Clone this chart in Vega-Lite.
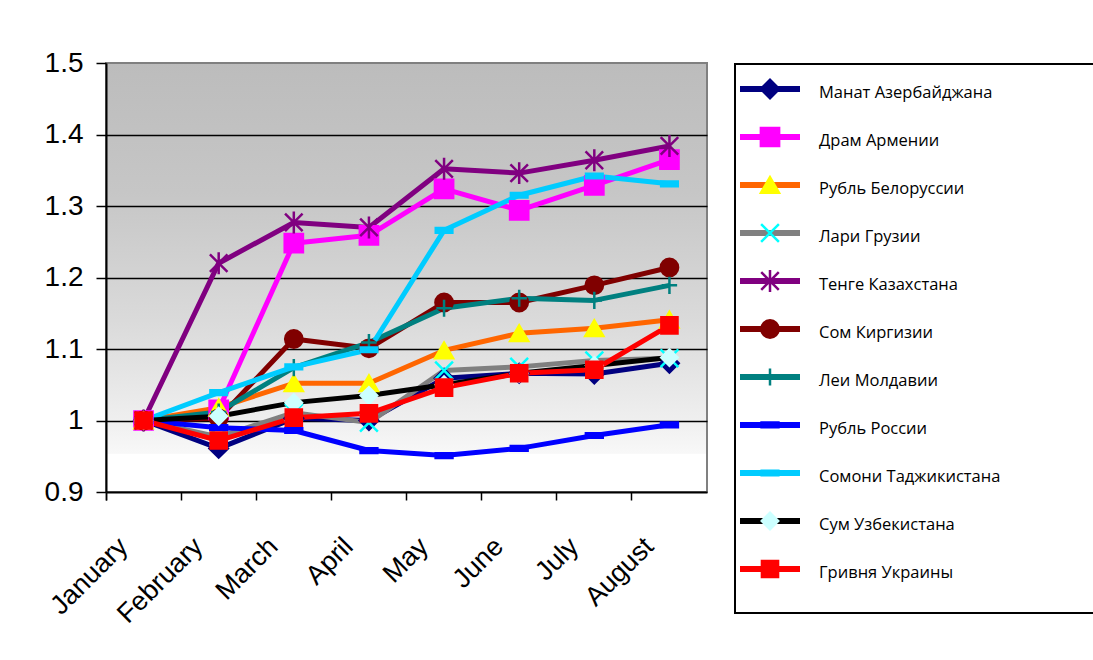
{
  "$schema": "https://vega.github.io/schema/vega-lite/v6.json",
  "padding": {"left": 43, "top": 48, "right": 0, "bottom": 0},
  "background": "white",
  "spacing": 26,
  "config": {"font": "Liberation Sans", "view": {"stroke": null}},
  "datasets": {
    "values": [
      {"series": "Манат Азербайджана", "month": "January", "value": 1.0},
      {"series": "Манат Азербайджана", "month": "February", "value": 0.961},
      {"series": "Манат Азербайджана", "month": "March", "value": 1.003},
      {"series": "Манат Азербайджана", "month": "April", "value": 1.0},
      {"series": "Манат Азербайджана", "month": "May", "value": 1.059},
      {"series": "Манат Азербайджана", "month": "June", "value": 1.066},
      {"series": "Манат Азербайджана", "month": "July", "value": 1.065},
      {"series": "Манат Азербайджана", "month": "August", "value": 1.08},
      {"series": "Драм Армении", "month": "January", "value": 1.0},
      {"series": "Драм Армении", "month": "February", "value": 1.015},
      {"series": "Драм Армении", "month": "March", "value": 1.248},
      {"series": "Драм Армении", "month": "April", "value": 1.259},
      {"series": "Драм Армении", "month": "May", "value": 1.324},
      {"series": "Драм Армении", "month": "June", "value": 1.294},
      {"series": "Драм Армении", "month": "July", "value": 1.329},
      {"series": "Драм Армении", "month": "August", "value": 1.365},
      {"series": "Рубль Белоруссии", "month": "January", "value": 1.0},
      {"series": "Рубль Белоруссии", "month": "February", "value": 1.018},
      {"series": "Рубль Белоруссии", "month": "March", "value": 1.052},
      {"series": "Рубль Белоруссии", "month": "April", "value": 1.052},
      {"series": "Рубль Белоруссии", "month": "May", "value": 1.098},
      {"series": "Рубль Белоруссии", "month": "June", "value": 1.122},
      {"series": "Рубль Белоруссии", "month": "July", "value": 1.129},
      {"series": "Рубль Белоруссии", "month": "August", "value": 1.141},
      {"series": "Лари Грузии", "month": "January", "value": 1.0},
      {"series": "Лари Грузии", "month": "February", "value": 0.977},
      {"series": "Лари Грузии", "month": "March", "value": 1.011},
      {"series": "Лари Грузии", "month": "April", "value": 0.997},
      {"series": "Лари Грузии", "month": "May", "value": 1.07},
      {"series": "Лари Грузии", "month": "June", "value": 1.075},
      {"series": "Лари Грузии", "month": "July", "value": 1.084},
      {"series": "Лари Грузии", "month": "August", "value": 1.087},
      {"series": "Тенге Казахстана", "month": "January", "value": 1.0},
      {"series": "Тенге Казахстана", "month": "February", "value": 1.22},
      {"series": "Тенге Казахстана", "month": "March", "value": 1.277},
      {"series": "Тенге Казахстана", "month": "April", "value": 1.27},
      {"series": "Тенге Казахстана", "month": "May", "value": 1.352},
      {"series": "Тенге Казахстана", "month": "June", "value": 1.346},
      {"series": "Тенге Казахстана", "month": "July", "value": 1.364},
      {"series": "Тенге Казахстана", "month": "August", "value": 1.384},
      {"series": "Сом Киргизии", "month": "January", "value": 1.0},
      {"series": "Сом Киргизии", "month": "February", "value": 1.003},
      {"series": "Сом Киргизии", "month": "March", "value": 1.114},
      {"series": "Сом Киргизии", "month": "April", "value": 1.101},
      {"series": "Сом Киргизии", "month": "May", "value": 1.165},
      {"series": "Сом Киргизии", "month": "June", "value": 1.165},
      {"series": "Сом Киргизии", "month": "July", "value": 1.189},
      {"series": "Сом Киргизии", "month": "August", "value": 1.214},
      {"series": "Леи Молдавии", "month": "January", "value": 1.0},
      {"series": "Леи Молдавии", "month": "February", "value": 1.012},
      {"series": "Леи Молдавии", "month": "March", "value": 1.074},
      {"series": "Леи Молдавии", "month": "April", "value": 1.109},
      {"series": "Леи Молдавии", "month": "May", "value": 1.157},
      {"series": "Леи Молдавии", "month": "June", "value": 1.171},
      {"series": "Леи Молдавии", "month": "July", "value": 1.168},
      {"series": "Леи Молдавии", "month": "August", "value": 1.189},
      {"series": "Рубль России", "month": "January", "value": 1.0},
      {"series": "Рубль России", "month": "February", "value": 0.99},
      {"series": "Рубль России", "month": "March", "value": 0.986},
      {"series": "Рубль России", "month": "April", "value": 0.958},
      {"series": "Рубль России", "month": "May", "value": 0.951},
      {"series": "Рубль России", "month": "June", "value": 0.961},
      {"series": "Рубль России", "month": "July", "value": 0.979},
      {"series": "Рубль России", "month": "August", "value": 0.994},
      {"series": "Сомони Таджикистана", "month": "January", "value": 1.0},
      {"series": "Сомони Таджикистана", "month": "February", "value": 1.039},
      {"series": "Сомони Таджикистана", "month": "March", "value": 1.075},
      {"series": "Сомони Таджикистана", "month": "April", "value": 1.099},
      {"series": "Сомони Таджикистана", "month": "May", "value": 1.266},
      {"series": "Сомони Таджикистана", "month": "June", "value": 1.315},
      {"series": "Сомони Таджикистана", "month": "July", "value": 1.342},
      {"series": "Сомони Таджикистана", "month": "August", "value": 1.331},
      {"series": "Сум Узбекистана", "month": "January", "value": 1.0},
      {"series": "Сум Узбекистана", "month": "February", "value": 1.006},
      {"series": "Сум Узбекистана", "month": "March", "value": 1.025},
      {"series": "Сум Узбекистана", "month": "April", "value": 1.035},
      {"series": "Сум Узбекистана", "month": "May", "value": 1.05},
      {"series": "Сум Узбекистана", "month": "June", "value": 1.066},
      {"series": "Сум Узбекистана", "month": "July", "value": 1.077},
      {"series": "Сум Узбекистана", "month": "August", "value": 1.088},
      {"series": "Гривня Украины", "month": "January", "value": 1.0},
      {"series": "Гривня Украины", "month": "February", "value": 0.972},
      {"series": "Гривня Украины", "month": "March", "value": 1.004},
      {"series": "Гривня Украины", "month": "April", "value": 1.01},
      {"series": "Гривня Украины", "month": "May", "value": 1.046},
      {"series": "Гривня Украины", "month": "June", "value": 1.066},
      {"series": "Гривня Украины", "month": "July", "value": 1.071},
      {"series": "Гривня Украины", "month": "August", "value": 1.133}
    ],
    "legend": [
      {"series": "Манат Азербайджана"},
      {"series": "Драм Армении"},
      {"series": "Рубль Белоруссии"},
      {"series": "Лари Грузии"},
      {"series": "Тенге Казахстана"},
      {"series": "Сом Киргизии"},
      {"series": "Леи Молдавии"},
      {"series": "Рубль России"},
      {"series": "Сомони Таджикистана"},
      {"series": "Сум Узбекистана"},
      {"series": "Гривня Украины"}
    ]
  },
  "hconcat": [
    {
      "width": 601,
      "height": 429,
      "view": {
        "stroke": "#808080",
        "strokeWidth": 2,
        "fill": {
          "gradient": "linear",
          "x1": 0, "y1": 0, "x2": 0, "y2": 1,
          "stops": [
            {"offset": 0, "color": "#bcbcbc"},
            {"offset": 0.3, "color": "#c6c6c6"},
            {"offset": 0.6, "color": "#dadada"},
            {"offset": 0.834, "color": "#efefef"},
            {"offset": 0.91, "color": "#f8f8f8"},
            {"offset": 0.912, "color": "#ffffff"},
            {"offset": 1, "color": "#ffffff"}
          ]
        }
      },
      "data": {"name": "values"},
      "encoding": {
        "x": {
          "field": "month",
          "type": "ordinal",
          "sort": ["January", "February", "March", "April", "May", "June", "July", "August"],
          "scale": {"type": "band", "paddingInner": 0, "paddingOuter": 0},
          "axis": {
            "title": null,
            "bandPosition": 0,
            "tickExtra": true,
            "labelAngle": -45,
            "labelAlign": "right",
            "labelBaseline": "middle",
            "labelFontSize": 27,
            "labelColor": "black",
            "labelOffset": -20,
            "labelPadding": 42,
            "tickSize": 8,
            "tickColor": "black",
            "tickWidth": 1.5,
            "domainColor": "black",
            "domainWidth": 2,
            "grid": false
          }
        },
        "y": {
          "field": "value",
          "type": "quantitative",
          "scale": {"domain": [0.9, 1.5], "zero": false, "nice": false},
          "axis": {
            "title": null,
            "values": [0.9, 1, 1.1, 1.2, 1.3, 1.4, 1.5],
            "format": "~g",
            "labelFontSize": 28,
            "labelColor": "black",
            "labelPadding": 13,
            "tickSize": 10,
            "tickColor": "black",
            "tickWidth": 1.5,
            "domainColor": "black",
            "domainWidth": 2,
            "grid": true,
            "gridColor": {"condition": {"test": "datum.value > 1.45 || datum.value < 0.95", "value": "transparent"}, "value": "black"},
            "gridWidth": 1.5
          }
        }
      },
      "layer": [
        {
          "mark": {"type": "line", "strokeWidth": 5, "strokeJoin": "round"},
          "encoding": {
            "order": {"value": null},
            "color": {
              "field": "series",
              "type": "nominal",
              "legend": null,
              "scale": {
                "domain": ["Манат Азербайджана", "Драм Армении", "Рубль Белоруссии", "Лари Грузии", "Тенге Казахстана", "Сом Киргизии", "Леи Молдавии", "Рубль России", "Сомони Таджикистана", "Сум Узбекистана", "Гривня Украины"],
                "range": ["#000080", "#ff00ff", "#ff6600", "#808080", "#800080", "#800000", "#008080", "#0000ff", "#00ccff", "#000000", "#ff0000"]
              }
            }
          }
        },
        {
          "mark": {"type": "point", "opacity": 1, "strokeWidth": 2.5},
          "encoding": {
            "fill": {
              "field": "series", "type": "nominal", "legend": null,
              "scale": {
                "domain": ["Манат Азербайджана", "Драм Армении", "Рубль Белоруссии", "Лари Грузии", "Тенге Казахстана", "Сом Киргизии", "Леи Молдавии", "Рубль России", "Сомони Таджикистана", "Сум Узбекистана", "Гривня Украины"],
                "range": ["#000080", "#ff00ff", "#ffff00", "transparent", "transparent", "#800000", "transparent", "#0000ff", "#00ccff", "#ccffff", "#ff0000"]
              }
            },
            "stroke": {
              "field": "series", "type": "nominal", "legend": null,
              "scale": {
                "domain": ["Манат Азербайджана", "Драм Армении", "Рубль Белоруссии", "Лари Грузии", "Тенге Казахстана", "Сом Киргизии", "Леи Молдавии", "Рубль России", "Сомони Таджикистана", "Сум Узбекистана", "Гривня Украины"],
                "range": ["#000080", "#ff00ff", "#ffff00", "#00ffff", "#800080", "#800000", "#008080", "#0000ff", "#00ccff", "#ccffff", "#ff0000"]
              }
            },
            "shape": {
              "field": "series", "type": "nominal", "legend": null,
              "scale": {
                "domain": ["Манат Азербайджана", "Драм Армении", "Рубль Белоруссии", "Лари Грузии", "Тенге Казахстана", "Сом Киргизии", "Леи Молдавии", "Рубль России", "Сомони Таджикистана", "Сум Узбекистана", "Гривня Украины"],
                "range": ["diamond", "square", "triangle-up", "M-1,-1L1,1M-1,1L1,-1", "M-1,-1L1,1M-1,1L1,-1M0,-1.25L0,1.25", "circle", "M0,-1L0,1M-0.9,0L0.9,0", "M-1,-0.28L1,-0.28L1,0.28L-1,0.28Z", "M-1,-0.28L1,-0.28L1,0.28L-1,0.28Z", "diamond", "square"]
              }
            },
            "size": {
              "field": "series", "type": "nominal", "legend": null,
              "scale": {
                "domain": ["Манат Азербайджана", "Драм Армении", "Рубль Белоруссии", "Лари Грузии", "Тенге Казахстана", "Сом Киргизии", "Леи Молдавии", "Рубль России", "Сомони Таджикистана", "Сум Узбекистана", "Гривня Украины"],
                "range": [340, 260, 230, 380, 420, 440, 620, 500, 700, 170, 250]
              }
            }
          }
        }
      ]
    },
    {
      "width": 360,
      "height": 551,
      "view": {"stroke": null, "fill": "white"},
      "data": {"name": "legend"},
      "layer": [
        {
          "mark": {"type": "rect", "fill": "transparent", "stroke": "black", "strokeWidth": 3, "clip": true},
          "encoding": {
            "x": {"datum": 0, "type": "quantitative", "scale": {"domain": [0, 360], "nice": false}, "axis": null},
            "x2": {"datum": 366}
          }
        },
        {
          "mark": {"type": "rule", "strokeWidth": 6},
          "encoding": {
            "y": {
              "field": "series", "type": "nominal", "sort": null, "axis": null,
              "scale": {
                "type": "point",
                "domain": ["Манат Азербайджана", "Драм Армении", "Рубль Белоруссии", "Лари Грузии", "Тенге Казахстана", "Сом Киргизии", "Леи Молдавии", "Рубль России", "Сомони Таджикистана", "Сум Узбекистана", "Гривня Украины"],
                "padding": 0.74,
                "align": 0.366
              }
            },
            "x": {"datum": 6, "type": "quantitative", "scale": {"domain": [0, 360], "nice": false}, "axis": null},
            "x2": {"datum": 66},
            "color": {
              "field": "series",
              "type": "nominal",
              "legend": null,
              "scale": {
                "domain": ["Манат Азербайджана", "Драм Армении", "Рубль Белоруссии", "Лари Грузии", "Тенге Казахстана", "Сом Киргизии", "Леи Молдавии", "Рубль России", "Сомони Таджикистана", "Сум Узбекистана", "Гривня Украины"],
                "range": ["#000080", "#ff00ff", "#ff6600", "#808080", "#800080", "#800000", "#008080", "#0000ff", "#00ccff", "#000000", "#ff0000"]
              }
            }
          }
        },
        {
          "mark": {"type": "point", "opacity": 1, "strokeWidth": 2.5},
          "encoding": {
            "y": {"field": "series", "type": "nominal", "sort": null, "axis": null},
            "x": {"datum": 36, "type": "quantitative", "scale": {"domain": [0, 360], "nice": false}, "axis": null},
            "fill": {
              "field": "series", "type": "nominal", "legend": null,
              "scale": {
                "domain": ["Манат Азербайджана", "Драм Армении", "Рубль Белоруссии", "Лари Грузии", "Тенге Казахстана", "Сом Киргизии", "Леи Молдавии", "Рубль России", "Сомони Таджикистана", "Сум Узбекистана", "Гривня Украины"],
                "range": ["#000080", "#ff00ff", "#ffff00", "transparent", "transparent", "#800000", "transparent", "#0000ff", "#00ccff", "#ccffff", "#ff0000"]
              }
            },
            "stroke": {
              "field": "series", "type": "nominal", "legend": null,
              "scale": {
                "domain": ["Манат Азербайджана", "Драм Армении", "Рубль Белоруссии", "Лари Грузии", "Тенге Казахстана", "Сом Киргизии", "Леи Молдавии", "Рубль России", "Сомони Таджикистана", "Сум Узбекистана", "Гривня Украины"],
                "range": ["#000080", "#ff00ff", "#ffff00", "#00ffff", "#800080", "#800000", "#008080", "#0000ff", "#00ccff", "#ccffff", "#ff0000"]
              }
            },
            "shape": {
              "field": "series", "type": "nominal", "legend": null,
              "scale": {
                "domain": ["Манат Азербайджана", "Драм Армении", "Рубль Белоруссии", "Лари Грузии", "Тенге Казахстана", "Сом Киргизии", "Леи Молдавии", "Рубль России", "Сомони Таджикистана", "Сум Узбекистана", "Гривня Украины"],
                "range": ["diamond", "square", "triangle-up", "M-1,-1L1,1M-1,1L1,-1", "M-1,-1L1,1M-1,1L1,-1M0,-1.25L0,1.25", "circle", "M0,-1L0,1M-0.9,0L0.9,0", "M-1,-0.28L1,-0.28L1,0.28L-1,0.28Z", "M-1,-0.28L1,-0.28L1,0.28L-1,0.28Z", "diamond", "square"]
              }
            },
            "size": {
              "field": "series", "type": "nominal", "legend": null,
              "scale": {
                "domain": ["Манат Азербайджана", "Драм Армении", "Рубль Белоруссии", "Лари Грузии", "Тенге Казахстана", "Сом Киргизии", "Леи Молдавии", "Рубль России", "Сомони Таджикистана", "Сум Узбекистана", "Гривня Украины"],
                "range": [340, 260, 230, 380, 420, 440, 620, 500, 700, 170, 250]
              }
            }
          }
        },
        {
          "mark": {"type": "text", "align": "left", "baseline": "middle", "dy": 4, "font": "Open Sans", "fontSize": 16.5, "color": "black"},
          "encoding": {
            "y": {"field": "series", "type": "nominal", "sort": null, "axis": null},
            "x": {"datum": 85, "type": "quantitative", "scale": {"domain": [0, 360], "nice": false}, "axis": null},
            "text": {"field": "series", "type": "nominal"}
          }
        }
      ]
    }
  ]
}
